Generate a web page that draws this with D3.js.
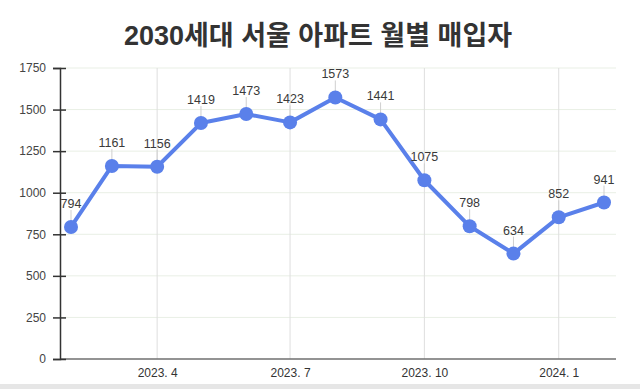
<!DOCTYPE html>
<html>
<head>
<meta charset="utf-8">
<script src="https://cdn.jsdelivr.net/npm/d3@7"></script>
<style>
  html, body { margin: 0; padding: 0; background: #fff; }
  svg { display: block; }
</style>
</head>
<body>
<script>
// data
var months = ["2023-02","2023-03","2023-04","2023-05","2023-06","2023-07","2023-08",
              "2023-09","2023-10","2023-11","2023-12","2024-01","2024-02"];
var buyers = [794, 1161, 1156, 1419, 1473, 1423, 1573, 1441, 1075, 798, 634, 852, 941];
var xTickMonths = ["2023-04","2023-07","2023-10","2024-01"];
var xTickLabels = ["2023. 4","2023. 7","2023. 10","2024. 1"];
var yTicks = [0, 250, 500, 750, 1000, 1250, 1500, 1750];
var title = "2030세대 서울 아파트 월별 매입자";

var W = 640, H = 389;
var parse = d3.timeParse("%Y-%m");
var color = "#5a80ea";
var font = "'Liberation Sans', Arial, 'Noto Sans CJK KR', sans-serif";

var svg = d3.select("body").append("svg")
    .attr("width", W).attr("height", H)
    .style("font-family", font);

// bottom gray strip of the screenshot
svg.append("rect").attr("x", 0).attr("y", 384).attr("width", W).attr("height", 5)
   .attr("fill", "#e6e6e6");

var plotL = 60, plotR = 616, plotT = 68, plotB = 359;

var x = d3.scaleTime()
    .domain([parse(months[0]), parse(months[months.length-1])])
    .range([71, 604]);
var y = d3.scaleLinear().domain([0, 1750]).range([plotB, plotT]);

// horizontal grid
svg.append("g").selectAll("line")
  .data(yTicks.slice(1)).enter()
  .append("line")
  .attr("x1", plotL).attr("x2", plotR)
  .attr("y1", function(d) { return y(d); })
  .attr("y2", function(d) { return y(d); })
  .attr("stroke", "#e9efe5").attr("stroke-width", 1);

// vertical grid
svg.append("g").selectAll("line")
  .data(xTickMonths).enter()
  .append("line")
  .attr("x1", function(d) { return x(parse(d)); })
  .attr("x2", function(d) { return x(parse(d)); })
  .attr("y1", plotT).attr("y2", plotB)
  .attr("stroke", "#dedede").attr("stroke-width", 1);

// x axis
var xAxis = d3.axisBottom(x)
    .tickValues(xTickMonths.map(parse))
    .tickFormat(function(d, i) { return xTickLabels[i]; })
    .tickSize(0).tickPadding(9);
var gx = svg.append("g").attr("transform", "translate(0," + plotB + ")").call(xAxis);
gx.select(".domain").remove();
gx.append("line").attr("x1", plotL).attr("x2", plotR).attr("y1", 0).attr("y2", 0)
  .attr("stroke", "#6f6f6f").attr("stroke-width", 1.5);
gx.selectAll("text").attr("fill", "#333").style("font-size", "12px").style("font-family", font);

// y axis
var yAxis = d3.axisLeft(y).tickValues(yTicks).tickFormat(d3.format("d"))
    .tickSize(7).tickPadding(7);
var gy = svg.append("g").attr("transform", "translate(" + plotL + ",0)").call(yAxis);
gy.select(".domain").attr("stroke", "#333").attr("stroke-width", 1.5);
gy.selectAll(".tick line").attr("x1", 6).attr("stroke", "#333").attr("stroke-width", 1.5);
gy.selectAll("text").attr("fill", "#444").style("font-size", "12px").style("font-family", font);

var pts = months.map(function(m, i) { return { t: parse(m), v: buyers[i] }; });

// annotation stems
svg.append("g").selectAll("line")
  .data(pts).enter()
  .append("line")
  .attr("x1", function(d) { return x(d.t); })
  .attr("x2", function(d) { return x(d.t); })
  .attr("y1", function(d) { return y(d.v) - 17; })
  .attr("y2", function(d) { return y(d.v); })
  .attr("stroke", "#cfcfcf").attr("stroke-width", 1);

// line
svg.append("path")
  .datum(pts)
  .attr("fill", "none")
  .attr("stroke", color)
  .attr("stroke-width", 4)
  .attr("stroke-linejoin", "round")
  .attr("d", d3.line().x(function(d) { return x(d.t); }).y(function(d) { return y(d.v); }));

// points
svg.append("g").selectAll("circle")
  .data(pts).enter()
  .append("circle")
  .attr("cx", function(d) { return x(d.t); })
  .attr("cy", function(d) { return y(d.v); })
  .attr("r", 7)
  .attr("fill", color);

// value labels
svg.append("g").selectAll("text")
  .data(pts).enter()
  .append("text")
  .attr("x", function(d) { return x(d.t); })
  .attr("y", function(d) { return y(d.v) - 19; })
  .attr("text-anchor", "middle")
  .attr("fill", "#3a3a3a")
  .style("font-size", "12.5px")
  .text(function(d) { return d.v; });

// title
svg.append("text")
  .attr("x", 318).attr("y", 45)
  .attr("text-anchor", "middle")
  .attr("fill", "#333")
  .style("font-size", "27px")
  .style("font-weight", "bold")
  .text(title);
</script>
</body>
</html>
